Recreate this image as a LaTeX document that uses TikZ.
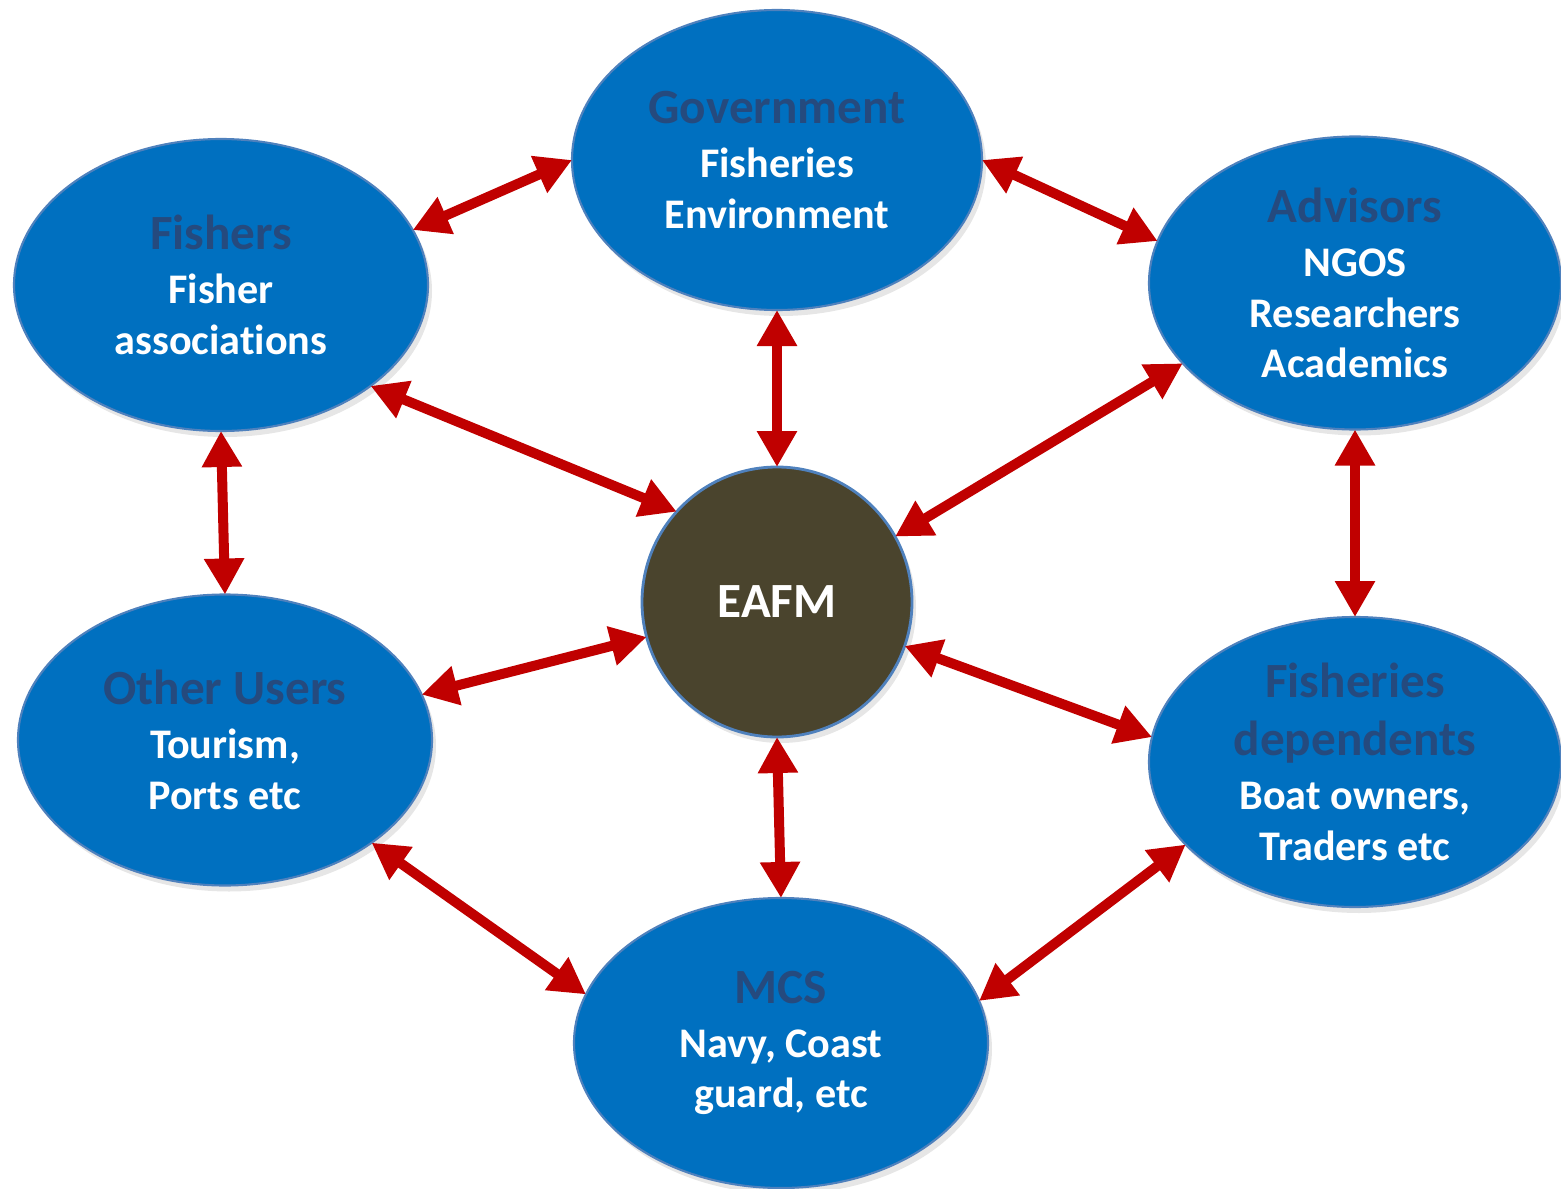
\documentclass[tikz,border=0pt]{standalone}
\usepackage{fontspec}
\setmainfont{Carlito}[Ligatures=NoCommon]
\usetikzlibrary{arrows.meta,shapes.geometric,shadows}
\definecolor{boxblue}{HTML}{0070C0}
\definecolor{rimblue}{HTML}{4F81BD}
\definecolor{headblue}{HTML}{254A7E}
\definecolor{hubbrown}{HTML}{4A442D}
\definecolor{linkred}{HTML}{C00000}
\tikzset{
  group/.style={ellipse, fill=boxblue, draw=rimblue, line width=0.6pt,
    inner sep=-0.5cm, outer sep=0pt, text=white, align=center,
    font=\fontsize{12}{14.4}\selectfont\bfseries,
    drop shadow={opacity=0.2, shadow xshift=0.04cm, shadow yshift=-0.06cm}},
  hub/.style={circle, fill=hubbrown, draw=rimblue, line width=0.8pt,
    inner sep=0pt, outer sep=0pt, minimum size=2.70cm, text=white,
    font=\fontsize{14}{17}\selectfont\bfseries,
    drop shadow={opacity=0.2, shadow xshift=0.04cm, shadow yshift=-0.06cm}},
  link/.style={{Triangle[length=0.36cm,width=0.38cm]}-{Triangle[length=0.36cm,width=0.38cm]},
    line width=0.1cm, draw=linkred},
}
\newcommand{\grouphead}[1]{{\fontsize{14}{17}\selectfont\color{headblue}#1}}

\begin{document}
\begin{tikzpicture}
\useasboundingbox (0,0) rectangle (15.61,11.88);

% stakeholder groups
\node[group, minimum width=4.10cm, minimum height=3.00cm] (gov) at (7.77,10.28)
  {\grouphead{Government}\\[1pt] Fisheries\\ Environment};
\node[group, minimum width=4.14cm, minimum height=2.92cm] (fish) at (2.21,9.03)
  {\grouphead{Fishers}\\[1pt] Fisher\\ associations};
\node[group, minimum width=4.12cm, minimum height=2.93cm] (adv) at (13.55,9.05)
  {\grouphead{Advisors}\\[1pt] NGOS\\ Researchers\\ Academics};
\node[group, minimum width=4.14cm, minimum height=2.91cm] (other) at (2.25,4.48)
  {\grouphead{Other Users}\\[1pt] Tourism,\\ Ports etc};
\node[group, minimum width=4.12cm, minimum height=2.90cm] (dep) at (13.55,4.26)
  {\grouphead{Fisheries}\\[2pt] \grouphead{dependents}\\[1pt] Boat owners,\\ Traders etc};
\node[group, minimum width=4.14cm, minimum height=2.90cm] (mcs) at (7.81,1.45)
  {\grouphead{MCS}\\[1pt] Navy, Coast\\ guard, etc};

% centre
\node[hub] (eafm) at (7.77,5.86) {EAFM};

% links
\draw[link] (fish.16) -- (gov.180);
\draw[link] (gov.0) -- (adv.168.6);
\draw[link] (gov.270) -- (eafm.90);
\draw[link] (fish.-34.4) -- (eafm.138.7);
\draw[link] (adv.205.5) -- (eafm.29.9);
\draw[link] (fish.270) -- (other.90);
\draw[link] (adv.270) -- (dep.90);
\draw[link] (other.13.5) -- (eafm.195.4);
\draw[link] (eafm.-19) -- (dep.173.3);
\draw[link] (eafm.270) -- (mcs.90);
\draw[link] (other.-35.5) -- (mcs.166.6);
\draw[link] (dep.206.6) -- (mcs.12.7);

\end{tikzpicture}
\end{document}
